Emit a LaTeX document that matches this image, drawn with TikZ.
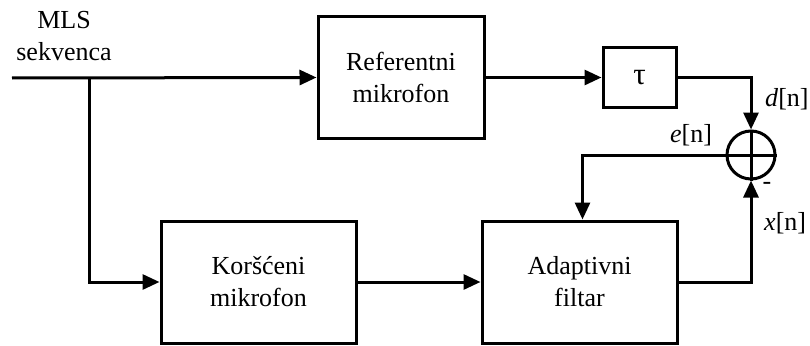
\documentclass[tikz,border=0pt]{standalone}
\usepackage{fontspec}
\setmainfont{Liberation Serif}
\usetikzlibrary{arrows.meta,calc}
\begin{document}
\begin{tikzpicture}[x=1pt,y=-1pt,
  every node/.style={font=\fontsize{26}{32}\selectfont},
  blk/.style={draw,line width=3pt,align=center,inner sep=0pt},
  wire/.style={line width=3pt},
  arr/.style={wire,-{Triangle[length=17pt,width=15pt]}},
  lbl/.style={inner sep=0pt}]
\useasboundingbox (0,0) rectangle (810,345);
\node[blk,minimum width=166pt,minimum height=121pt] (ref) at (401,77.5) {Referentni\\mikrofon};
\node[blk,minimum width=73pt,minimum height=59pt,font=\fontsize{31}{36}\selectfont] (tau) at (639.5,77.5) {τ};
\node[draw,circle,line width=3pt,minimum size=48pt,inner sep=0pt] (sum) at (751,155) {};
\draw[wire] (sum.north) -- (sum.south) (sum.west) -- (sum.east);
\node[blk,minimum width=195pt,minimum height=122pt] (kor) at (258.5,282) {Koršćeni\\mikrofon};
\node[blk,minimum width=195pt,minimum height=122pt] (ada) at (579.5,282) {Adaptivni\\filtar};
\coordinate (in) at (12,78);
\coordinate (br) at (89,78);
\node[lbl,align=center] (mls) at (64,36) {MLS\\sekvenca};
\draw[arr] (in) -- (ref.west);
\draw[arr] (br) |- (kor.west);
\draw[arr] (ref.east) -- (tau.west);
\draw[arr] (tau.east) -| (sum.north);
\draw[arr] (kor.east) -- (ada.west);
\draw[arr] (sum.west) -| ($(ada.north)+(3,0)$);
\draw[arr] (ada.east) -| (sum.south);
\node[lbl,anchor=west] (dn) at (765,99) {\textit{d}[n]};
\node[lbl] (en) at (691,135) {\textit{e}[n]};
\node[lbl] (minus) at (767,186) {-};
\node[lbl,anchor=west] (xn) at (764,223) {\textit{x}[n]};
\end{tikzpicture}
\end{document}
